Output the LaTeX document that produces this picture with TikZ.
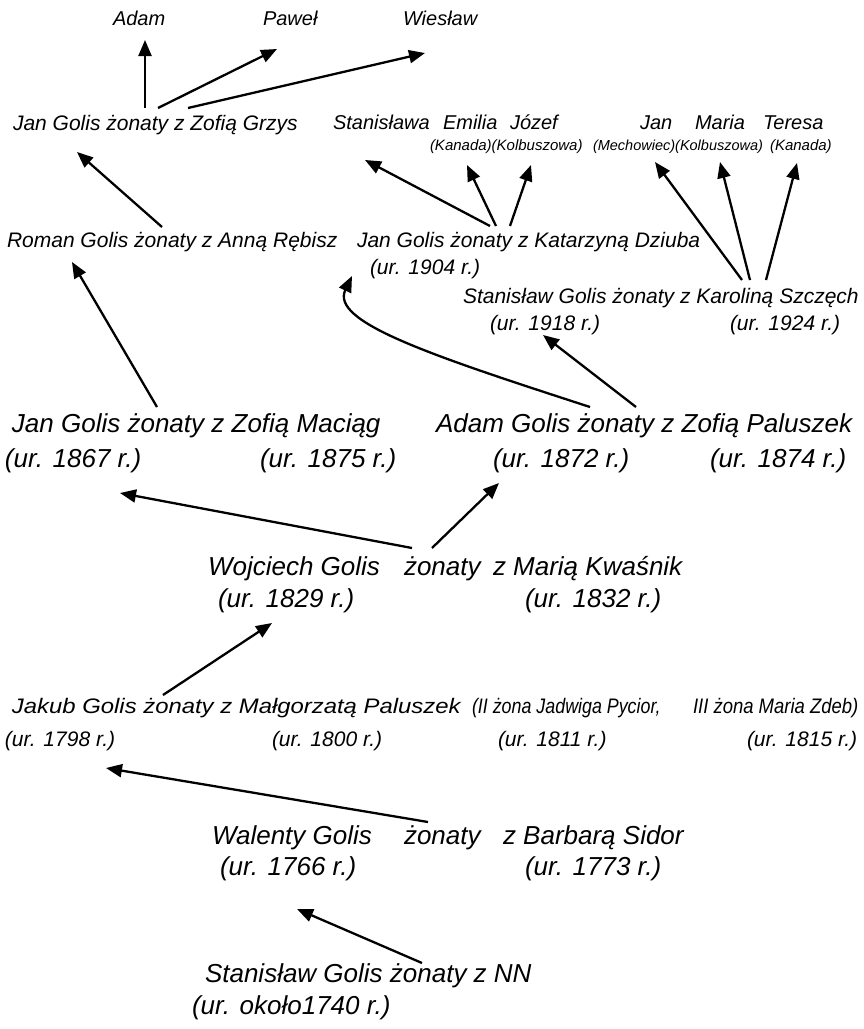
\documentclass[tikz,border=0pt]{standalone}
\usepackage{fontspec}
\setmainfont{Liberation Sans}
\usetikzlibrary{arrows.meta,calc}
\begin{document}
\begin{tikzpicture}[x=1pt,y=-1pt,
  lbl/.style={anchor=base west, inner sep=0pt, outer sep=0pt},
  kid/.style={lbl, font=\fontsize{20}{24}\selectfont\itshape},
  place/.style={lbl, font=\fontsize{15}{18}\selectfont\itshape},
  mid/.style={lbl, font=\fontsize{21}{25}\selectfont\itshape},
  big/.style={lbl, font=\fontsize{26}{31}\selectfont\itshape},
  arr/.style={line width=2.3pt, line cap=butt, -{Triangle[length=16pt,width=13pt]}}]
\useasboundingbox (0,0) rectangle (863,1029);

% generation of the grandchildren
\node[kid] (adam)    at (113,25) {Adam};
\node[kid] (pawel)   at (263,25) {Paweł};
\node[kid] (wieslaw) at (403,25) {Wiesław};

\node[mid] (grzys) at (13,130) {Jan Golis żonaty z Zofią Grzys};
\node[kid] (stanislawa) at (333,129) {Stanisława};
\node[kid] (emilia)     at (443,129) {Emilia};
\node[kid] (jozef)      at (510,129) {Józef};
\node[kid] (jan2)       at (640,129) {Jan};
\node[kid] (maria2)     at (695,129) {Maria};
\node[kid] (teresa)     at (763,129) {Teresa};
\node[place] (pl1) at (430,150) {(Kanada)(Kolbuszowa)};
\node[place, font=\fontsize{14.5}{17}\selectfont\itshape] (pl2) at (593,150) {(Mechowiec)(Kolbuszowa)};
\node[place] (pl3) at (770,150) {(Kanada)};

% sons of Jan and Adam
\node[mid] (roman)  at (7,247)   {Roman Golis żonaty z Anną Rębisz};
\node[mid] (dziuba) at (357,247) {Jan Golis żonaty z Katarzyną Dziuba};
\node[mid] (ur1904) at (370,274) {(ur. 1904 r.)};
\node[mid] (szczech) at (463,303) {Stanisław Golis żonaty z Karoliną Szczęch};
\node[mid] (ur1918)  at (490,330) {(ur. 1918 r.)};
\node[mid] (ur1924)  at (730,330) {(ur. 1924 r.)};

% sons of Wojciech
\node[big] (maciag)   at (12,432)  {Jan Golis żonaty z Zofią Maciąg};
\node[big] (ur1867)   at (5,467)   {(ur. 1867 r.)};
\node[big] (ur1875)   at (260,467) {(ur. 1875 r.)};
\node[big] (paluszek) at (436,432) {Adam Golis żonaty z Zofią Paluszek};
\node[big] (ur1872)   at (493,467) {(ur. 1872 r.)};
\node[big] (ur1874)   at (710,467) {(ur. 1874 r.)};

% Wojciech
\node[big] (wojciech) at (208,575) {Wojciech Golis};
\node[big] (zon1)     at (404,575) {żonaty};
\node[big] (kwasnik)  at (493,575) {z Marią Kwaśnik};
\node[big] (ur1829)   at (218,607) {(ur. 1829 r.)};
\node[big] (ur1832)   at (525,607) {(ur. 1832 r.)};

% Jakub and his wives
\node[mid] (jakub)   at (12,713)  {\scalebox{1.137}[1]{Jakub Golis żonaty z Małgorzatą Paluszek}};
\node[mid] (wife2)   at (472,713) {\scalebox{0.85}[1]{(II żona Jadwiga Pycior,}};
\node[mid] (wife3)   at (693,713) {\scalebox{0.88}[1]{III żona Maria Zdeb)}};
\node[mid] (ur1798)  at (5,746)   {(ur. 1798 r.)};
\node[mid] (ur1800)  at (272,746) {(ur. 1800 r.)};
\node[mid] (ur1811)  at (498,746) {(ur. 1811 r.)};
\node[mid] (ur1815)  at (747,746) {(ur. 1815 r.)};

% Walenty
\node[big] (walenty) at (212,844) {Walenty Golis};
\node[big] (zon2)    at (404,844) {żonaty};
\node[big] (sidor)   at (503,844) {z Barbarą Sidor};
\node[big] (ur1766)  at (220,875) {(ur. 1766 r.)};
\node[big] (ur1773)  at (525,875) {(ur. 1773 r.)};

% Stanisław, the eldest
\node[big] (nn)     at (205,982)  {Stanisław Golis żonaty z NN};
\node[big] (ur1740) at (192,1014) {(ur. około1740 r.)};

% arrow ends
\coordinate (g0) at (145,108); \coordinate (tAdam) at (145,40);
\coordinate (g1) at (158,108); \coordinate (tPawel) at (277,49);
\coordinate (g2) at (188,108); \coordinate (tWies) at (425,53);
\coordinate (r0) at (162,227); \coordinate (tGrzys) at (77,152);
\coordinate (d0) at (490,226); \coordinate (tStan) at (365,160);
\coordinate (d1) at (496,226); \coordinate (tEmil) at (467,165);
\coordinate (d2) at (510,226); \coordinate (tJoz) at (531,165);
\coordinate (s0) at (742,280); \coordinate (tJan) at (655,162);
\coordinate (s1) at (750,280); \coordinate (tMar) at (720,162);
\coordinate (s2) at (766,280); \coordinate (tTer) at (797,163);
\coordinate (m0) at (157,407); \coordinate (tRom) at (72,262);
\coordinate (p0) at (590,407); \coordinate (tDz) at (352,276);
\coordinate (p1) at (636,407); \coordinate (tSz) at (543,335);
\coordinate (w0) at (412,548); \coordinate (tMac) at (120,493);
\coordinate (w1) at (432,548); \coordinate (tPal) at (499,483);
\coordinate (j0) at (163,695); \coordinate (tWoj) at (272,623);
\coordinate (v0) at (428,822); \coordinate (tJak) at (106,768);
\coordinate (n0) at (422,963); \coordinate (tWal) at (297,909);

\draw[arr] (g0) -- (tAdam);
\draw[arr] (g1) -- (tPawel);
\draw[arr] (g2) -- (tWies);
\draw[arr] (r0) -- (tGrzys);
\draw[arr] (d0) -- (tStan);
\draw[arr] (d1) -- (tEmil);
\draw[arr] (d2) -- (tJoz);
\draw[arr] (s0) -- (tJan);
\draw[arr] (s1) -- (tMar);
\draw[arr] (s2) -- (tTer);
\draw[arr] (m0) -- (tRom);
\draw[arr] (p0) .. controls (430,355) and (330,322) .. (tDz);
\draw[arr] (p1) -- (tSz);
\draw[arr] (w0) -- (tMac);
\draw[arr] (w1) -- (tPal);
\draw[arr] (j0) -- (tWoj);
\draw[arr] (v0) -- (tJak);
\draw[arr] (n0) -- (tWal);
\end{tikzpicture}
\end{document}
